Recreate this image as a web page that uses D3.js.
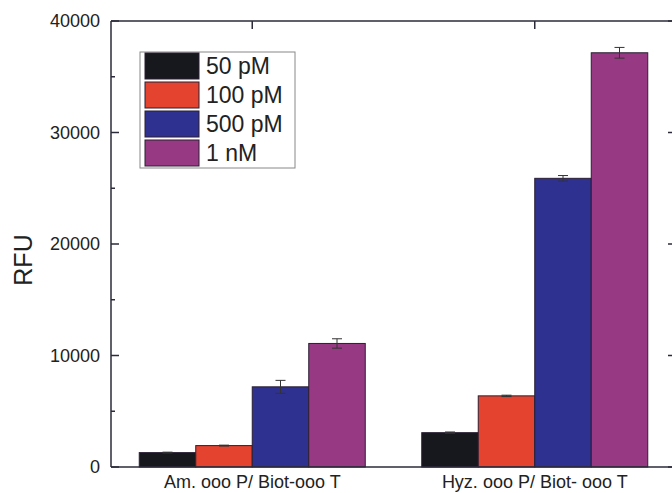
<!DOCTYPE html>
<html><head><meta charset="utf-8">
<script src="https://cdn.jsdelivr.net/npm/d3@7"></script>
<style>body{margin:0;background:#fff}svg{display:block}text{font-family:"Liberation Sans",Arial,sans-serif;fill:#222}</style>
</head><body><svg id="c" width="672" height="493"></svg>
<script>
const categories = ["Am. ooo P/ Biot-ooo T", "Hyz. ooo P/ Biot- ooo T"];
const seriesNames = ["50 pM", "100 pM", "500 pM", "1 nM"];
const seriesColors = ["#17171e", "#e4432f", "#2e3190", "#973a83"];
const values = [
  [1290, 1920, 7190, 11080],
  [3080, 6380, 25890, 37150]
];
const errors = [
  [40, 40, 580, 420],
  [60, 60, 250, 480]
];
const yTicks = [0, 10000, 20000, 30000, 40000];
const yMinorTicks = [5000, 15000, 25000, 35000];

const svg = d3.select("#c");
const L = 111, R = 676, T = 21, B = 467;
const y = d3.scaleLinear().domain([0, 40000]).range([B, T]);
const x0 = d3.scaleBand().domain(categories).range([L, R]).paddingInner(0.0).paddingOuter(0.0);
const groupW = 226;
const x1 = d3.scaleBand().domain(seriesNames).range([0, groupW]);

const g = svg.append("g");
categories.forEach((c, ci) => {
  const gx = x0(c) + x0.bandwidth() / 2 - groupW / 2;
  seriesNames.forEach((s, si) => {
    const v = values[ci][si], e = errors[ci][si];
    const bx = gx + x1(s), bw = x1.bandwidth();
    g.append("rect").attr("x", bx).attr("y", y(v)).attr("width", bw).attr("height", y(0) - y(v))
      .attr("fill", seriesColors[si]).attr("stroke", "#2a1f33").attr("stroke-width", 1);
    const cx = bx + bw / 2;
    g.append("line").attr("x1", cx).attr("x2", cx).attr("y1", y(v + e)).attr("y2", y(v - e)).attr("stroke", "#333").attr("stroke-width", 1);
    [v + e, v - e].forEach(t => g.append("line").attr("x1", cx - 5).attr("x2", cx + 5).attr("y1", y(t)).attr("y2", y(t)).attr("stroke", "#333").attr("stroke-width", 1));
  });
});

const ax = svg.append("g").attr("stroke", "#2b2b3a").attr("stroke-width", 1.5);
ax.append("line").attr("x1", L).attr("x2", L).attr("y1", T).attr("y2", B);
ax.append("line").attr("x1", R).attr("x2", R).attr("y1", T).attr("y2", B);
ax.append("line").attr("x1", L).attr("x2", R).attr("y1", T).attr("y2", T);
ax.append("line").attr("x1", L).attr("x2", R).attr("y1", B).attr("y2", B);

const left = d3.axisLeft(y).tickValues(yTicks).tickSize(0).tickPadding(11).tickFormat(d3.format("d"));
const la = svg.append("g").attr("transform", `translate(${L},0)`).call(left);
la.select(".domain").remove();
la.selectAll("text").style("font-size", "18px").attr("fill", "#222");
yTicks.forEach(t => { ax.append("line").attr("x1", L).attr("x2", L + 8).attr("y1", y(t)).attr("y2", y(t)); ax.append("line").attr("x1", R).attr("x2", R - 8).attr("y1", y(t)).attr("y2", y(t)); });
yMinorTicks.forEach(t => { ax.append("line").attr("x1", L).attr("x2", L + 4).attr("y1", y(t)).attr("y2", y(t)); ax.append("line").attr("x1", R).attr("x2", R - 4).attr("y1", y(t)).attr("y2", y(t)); });
categories.forEach(c => { const cx = x0(c) + x0.bandwidth() / 2; ax.append("line").attr("x1", cx).attr("x2", cx).attr("y1", T).attr("y2", T + 8); });

const bottom = d3.axisBottom(x0).tickSize(0);
const ba = svg.append("g").attr("transform", `translate(0,${B})`).call(bottom);
ba.select(".domain").remove();
ba.selectAll("text").style("font-size", "18px").attr("fill", "#222").attr("y", 21).attr("dy", 0);

svg.append("text").attr("transform", `translate(32,${(T + B) / 2 + 16}) rotate(-90)`).attr("text-anchor", "middle")
  .style("font-size", "25px").text("RFU");

const lg = svg.append("g");
lg.append("rect").attr("x", 140).attr("y", 52).attr("width", 155).attr("height", 116).attr("fill", "#fff").attr("stroke", "#888").attr("stroke-width", 1);
seriesNames.forEach((s, i) => {
  lg.append("rect").attr("x", 145).attr("y", 53 + i * 29).attr("width", 54).attr("height", 26).attr("fill", seriesColors[i]).attr("stroke", "#2a1f33");
  lg.append("text").attr("x", 206).attr("y", 74 + i * 29).style("font-size", "23px").text(s);
});
</script></body></html>
